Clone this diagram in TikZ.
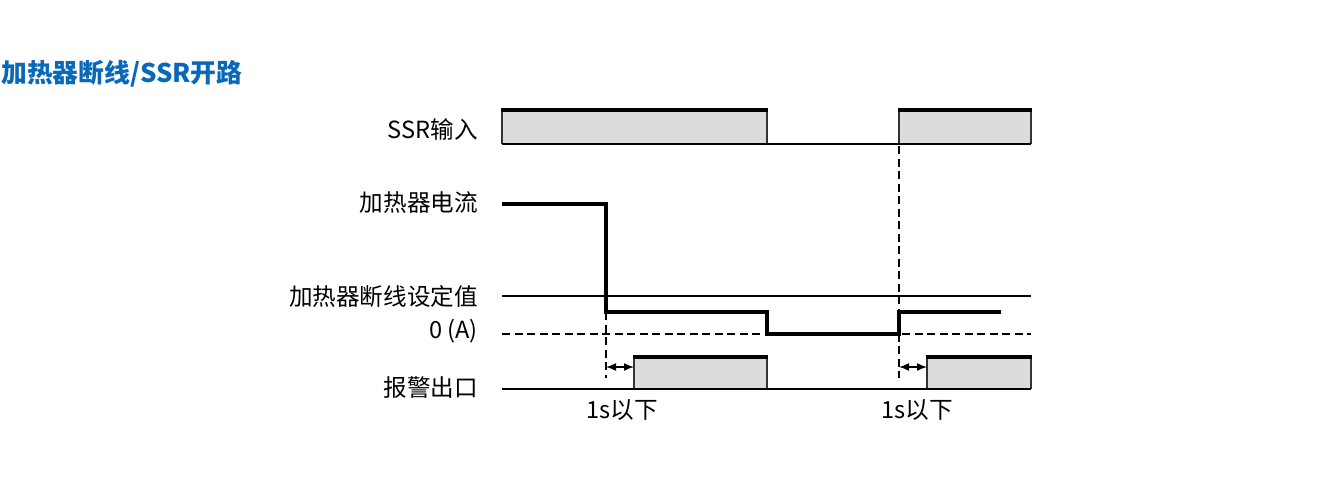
\documentclass[tikz,border=0pt]{standalone}
\usepackage{fontspec}
\setmainfont{Noto Sans CJK SC}
\newfontfamily\cjk{Noto Sans CJK SC}
\usetikzlibrary{arrows.meta}
\definecolor{titleblue}{HTML}{0A68B8}
\definecolor{boxgray}{HTML}{DCDCDC}
\begin{document}
\begin{tikzpicture}[x=1pt,y=-1pt,
  lbl/.style={anchor=east,inner sep=0pt,font=\fontsize{23.6}{27}\selectfont},
  tlbl/.style={anchor=center,inner sep=0pt,font=\fontsize{23.6}{27}\selectfont},
  sig/.style={line width=4pt,line cap=butt,line join=miter},
  thin/.style={line width=2pt},
  dash0/.style={line width=1.3pt,dash pattern=on 8pt off 4.5pt},
  pulsetop/.style={line width=4pt},
  pside/.style={line width=1.3pt,draw=black!80},
  dimarr/.style={line width=1.5pt,{Latex[length=10pt,width=8pt]}-{Latex[length=10pt,width=8pt]}}]
\useasboundingbox (0,0) rectangle (1341,480);

% title
\node[anchor=west,inner sep=0pt,text=titleblue,font=\fontsize{25.8}{30}\selectfont\bfseries] (title) at (1,74) {加热器断线/SSR开路};

% labels
\node[lbl] (lssr) at (478,129) {SSR输入};
\node[lbl] (lcur) at (478,203) {加热器电流};
\node[lbl] (lset) at (478,297) {加热器断线设定值};
\node[lbl] (lzero) at (478,331) {0 (A)};
\node[lbl] (lalm) at (478,388) {报警出口};

% SSR input
\fill[boxgray] (502,110) rectangle (767,144);
\draw[pside] (502,144) -- (502,110) (767,110) -- (767,144);
\draw[pulsetop] (501,110) -- (768,110);
\fill[boxgray] (899,110) rectangle (1031,144);
\draw[pside] (899,144) -- (899,110) (1031,110) -- (1031,144);
\draw[pulsetop] (898,110) -- (1032,110);
\draw[thin] (502,144) -- (1031,144);

% set value line and zero line
\draw[thin] (502,296) -- (1031,296);
\draw[dash0] (502,334) -- (1031,334);

% vertical dashed lines
\draw[dash0] (606,312) -- (606,378);
\draw[dash0] (899,146) -- (899,378);

% heater current
\draw[sig] (502,204) -- (606,204) -- (606,312) -- (767,312) -- (767,334) -- (899,334) -- (899,312) -- (1001,312);

% alarm output
\fill[boxgray] (634,357) rectangle (767,389);
\draw[pside] (634,389) -- (634,357) (767,357) -- (767,389);
\draw[pulsetop] (633,357) -- (768,357);
\fill[boxgray] (927,357) rectangle (1031,389);
\draw[pside] (927,389) -- (927,357) (1031,357) -- (1031,389);
\draw[pulsetop] (926,357) -- (1032,357);
\draw[thin] (502,389) -- (1031,389);

% delay arrows
\coordinate (a1) at (606,367);
\coordinate (b1) at (634,367);
\coordinate (a2) at (899,367);
\coordinate (b2) at (927,367);
\draw[dimarr] (a1) -- (b1);
\draw[dimarr] (a2) -- (b2);

\node[tlbl] (d1) at (622,410) {1s以下};
\node[tlbl] (d2) at (917,410) {1s以下};
\end{tikzpicture}
\end{document}
